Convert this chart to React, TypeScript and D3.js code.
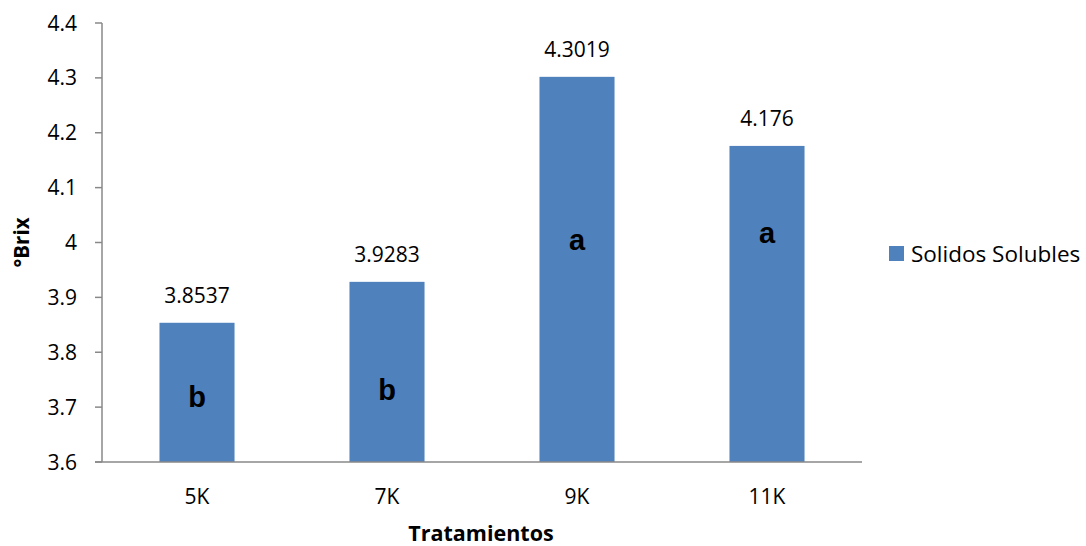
import React from "react";
import * as d3 from "d3";

const categories = ["5K", "7K", "9K", "11K"];
const values = [3.8537, 3.9283, 4.3019, 4.176];
const valueLabels = ["3.8537", "3.9283", "4.3019", "4.176"];
const letters = ["b", "b", "a", "a"];
const letterLevels = [3.718, 3.731, 4.005, 4.017];
const yTicks = [3.6, 3.7, 3.8, 3.9, 4.0, 4.1, 4.2, 4.3, 4.4];
const yTickLabels = ["3.6", "3.7", "3.8", "3.9", "4", "4.1", "4.2", "4.3", "4.4"];
const seriesName = "Solidos Solubles";

const W = 1086;
const H = 546;
const left = 102;
const right = 862;
const top = 23;
const bottom = 462;
const FONT = "'Open Sans', 'Noto Sans', sans-serif";
const BAR = "#4F81BD";
const AXIS = "#888888";

export default function App() {
  const x = d3.scaleBand<string>().domain(categories).range([left, right]).padding(0);
  const y = d3.scaleLinear().domain([3.6, 4.4]).range([bottom, top]);
  const step = x.step();
  const bw = step * 0.395;

  return (
    <svg width={W} height={H} style={{ position: "absolute", left: 0, top: 0, background: "#fff" }}>
      {categories.map((c, i) => {
        const cx = (x(c) as number) + step / 2;
        return (
          <g key={c}>
            <rect x={cx - bw / 2} y={y(values[i])} width={bw} height={bottom - y(values[i])} fill={BAR} />
            <text x={cx} y={y(values[i]) - 20} textAnchor="middle" fontFamily={FONT} fontSize={21} fill="#000">
              {valueLabels[i]}
            </text>
            <text x={cx} y={y(letterLevels[i])} dy="0.35em" textAnchor="middle" fontFamily="'Liberation Sans', Arial, sans-serif" fontWeight="bold" fontSize={29} fill="#000">
              {letters[i]}
            </text>
            <text x={cx} y={504} textAnchor="middle" fontFamily={FONT} fontSize={21} fill="#000">
              {c}
            </text>
          </g>
        );
      })}
      <line x1={left} x2={left} y1={top} y2={bottom} stroke={AXIS} strokeWidth={1.5} />
      <line x1={left - 7} x2={right} y1={bottom} y2={bottom} stroke={AXIS} strokeWidth={1.5} />
      {yTicks.map((t, i) => (
        <g key={t}>
          <line x1={left - 7} x2={left} y1={y(t)} y2={y(t)} stroke={AXIS} strokeWidth={1.5} />
          <text x={77} y={y(t)} dy="0.36em" textAnchor="end" fontFamily={FONT} fontSize={21} fill="#000">
            {yTickLabels[i]}
          </text>
        </g>
      ))}
      <text transform={`translate(29,${(top + bottom) / 2}) rotate(-90)`} textAnchor="middle" fontFamily={FONT} fontWeight="bold" fontSize={20.5} fill="#000">
        °Brix
      </text>
      <text x={481} y={541} textAnchor="middle" fontFamily={FONT} fontWeight="bold" fontSize={21.5} fill="#000">
        Tratamientos
      </text>
      <rect x={889} y={246} width={15} height={15} fill={BAR} />
      <text x={911} y={254} dy="0.36em" fontFamily={FONT} fontSize={22.5} fill="#000">
        {seriesName}
      </text>
    </svg>
  );
}
